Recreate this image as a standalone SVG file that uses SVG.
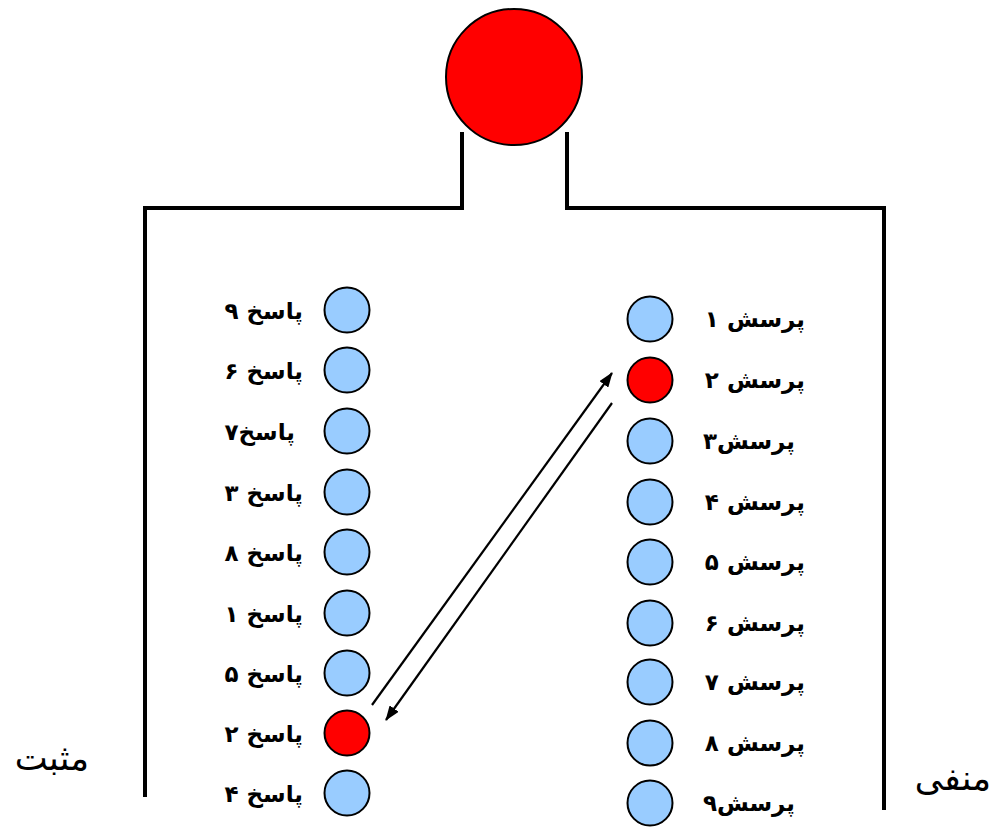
<svg xmlns="http://www.w3.org/2000/svg" width="994" height="829" viewBox="0 0 994 829">
<style>
.frame{fill:none;stroke:#000;stroke-width:4}
.b{fill:#99ccff;stroke:#000;stroke-width:2}
.r{fill:#ff0000;stroke:#000;stroke-width:2}
.lbl{font-family:"DejaVu Sans",sans-serif;font-weight:bold;font-size:23px;fill:#000;text-anchor:end}
.big{font-family:"DejaVu Sans",sans-serif;font-size:35px;fill:#000;text-anchor:end}
.conn{stroke:#000;stroke-width:2.2;fill:none;marker-end:url(#ah)}
</style>
<defs>
<marker id="ah" viewBox="0 0 15 11" refX="14" refY="5.5" markerWidth="15" markerHeight="11" markerUnits="userSpaceOnUse" orient="auto"><path d="M0,0 L15,5.5 L0,11 z" fill="#000"/></marker>
</defs>
<rect width="994" height="829" fill="#fff"/>
<g id="frame">
<path class="frame" d="M145,797 V208 H462 V132"/>
<path class="frame" d="M567,132 V208 H884 V810"/>
</g>
<g id="top"><circle class="r" cx="514" cy="77" r="68"/></g>
<g id="answers">
<g id="a9"><circle class="b" cx="347" cy="310" r="22.5"/><text class="lbl" x="303" y="319">پاسخ ۹</text></g>
<g id="a6"><circle class="b" cx="347" cy="370" r="22.5"/><text class="lbl" x="303" y="379">پاسخ ۶</text></g>
<g id="a7"><circle class="b" cx="347" cy="431" r="22.5"/><text class="lbl" x="295" y="440">پاسخ۷</text></g>
<g id="a3"><circle class="b" cx="347" cy="492" r="22.5"/><text class="lbl" x="303" y="501">پاسخ ۳</text></g>
<g id="a8"><circle class="b" cx="347" cy="552" r="22.5"/><text class="lbl" x="303" y="561">پاسخ ۸</text></g>
<g id="a1"><circle class="b" cx="347" cy="613" r="22.5"/><text class="lbl" x="303" y="622">پاسخ ۱</text></g>
<g id="a5"><circle class="b" cx="347" cy="673" r="22.5"/><text class="lbl" x="303" y="682">پاسخ ۵</text></g>
<g id="a2"><circle class="r" cx="347" cy="733" r="22.5"/><text class="lbl" x="303" y="742">پاسخ ۲</text></g>
<g id="a4"><circle class="b" cx="347" cy="793" r="22.5"/><text class="lbl" x="303" y="802">پاسخ ۴</text></g>
</g>
<g id="questions">
<g id="q1"><circle class="b" cx="650" cy="319" r="22.5"/><text class="lbl" x="805" y="327">پرسش ۱</text></g>
<g id="q2"><circle class="r" cx="650" cy="380" r="22.5"/><text class="lbl" x="805" y="388">پرسش ۲</text></g>
<g id="q3"><circle class="b" cx="650" cy="441" r="22.5"/><text class="lbl" x="795" y="449">پرسش۳</text></g>
<g id="q4"><circle class="b" cx="650" cy="502" r="22.5"/><text class="lbl" x="805" y="510">پرسش ۴</text></g>
<g id="q5"><circle class="b" cx="650" cy="562" r="22.5"/><text class="lbl" x="805" y="570">پرسش ۵</text></g>
<g id="q6"><circle class="b" cx="650" cy="623" r="22.5"/><text class="lbl" x="805" y="631">پرسش ۶</text></g>
<g id="q7"><circle class="b" cx="650" cy="682" r="22.5"/><text class="lbl" x="805" y="690">پرسش ۷</text></g>
<g id="q8"><circle class="b" cx="650" cy="743" r="22.5"/><text class="lbl" x="805" y="751">پرسش ۸</text></g>
<g id="q9"><circle class="b" cx="650" cy="803" r="22.5"/><text class="lbl" x="795" y="811">پرسش۹</text></g>
</g>
<g id="side-labels">
<text class="big" x="89" y="770">مثبت</text>
<text class="big" x="991" y="790">منفی</text>
</g>
<g id="connectors">
<line class="conn" x1="372" y1="705" x2="612" y2="373"/>
<line class="conn" x1="612" y1="403" x2="386" y2="720"/>
</g>
</svg>
